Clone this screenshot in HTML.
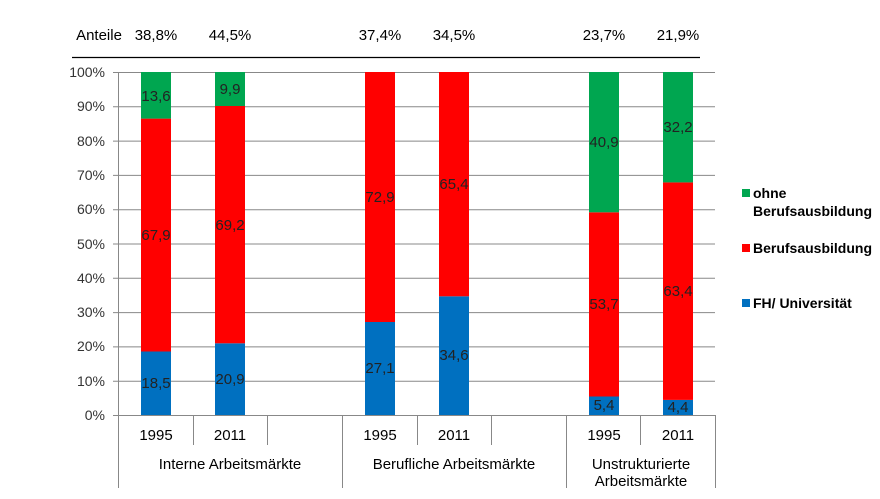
<!DOCTYPE html>
<html><head><meta charset="utf-8"><style>
body{margin:0;background:#fff;}
svg{display:block;font-family:"Liberation Sans",Arial,sans-serif;}
</style></head><body>
<svg width="880" height="499" viewBox="0 0 880 499" xmlns="http://www.w3.org/2000/svg">
<rect width="880" height="499" fill="#fff"/>
<line x1="72" y1="57.5" x2="700" y2="57.5" stroke="#000" stroke-width="1.3"/>
<g font-size="15" fill="#000" text-anchor="middle">
<text x="99" y="40">Anteile</text>
<text x="156" y="40">38,8%</text>
<text x="230" y="40">44,5%</text>
<text x="380" y="40">37,4%</text>
<text x="454" y="40">34,5%</text>
<text x="604" y="40">23,7%</text>
<text x="678" y="40">21,9%</text>
</g>
<g stroke="#888" stroke-width="1">
<line x1="113" y1="72.5" x2="715" y2="72.5"/>
<line x1="113" y1="106.8" x2="715" y2="106.8"/>
<line x1="113" y1="141.1" x2="715" y2="141.1"/>
<line x1="113" y1="175.4" x2="715" y2="175.4"/>
<line x1="113" y1="209.7" x2="715" y2="209.7"/>
<line x1="113" y1="244" x2="715" y2="244"/>
<line x1="113" y1="278.3" x2="715" y2="278.3"/>
<line x1="113" y1="312.6" x2="715" y2="312.6"/>
<line x1="113" y1="346.9" x2="715" y2="346.9"/>
<line x1="113" y1="381.2" x2="715" y2="381.2"/>
<line x1="113" y1="415.5" x2="715" y2="415.5"/>
<line x1="118.5" y1="72" x2="118.5" y2="488"/>
<line x1="193.5" y1="415" x2="193.5" y2="445"/>
<line x1="267.5" y1="415" x2="267.5" y2="445"/>
<line x1="342.5" y1="415" x2="342.5" y2="488"/>
<line x1="417.5" y1="415" x2="417.5" y2="445"/>
<line x1="491.5" y1="415" x2="491.5" y2="445"/>
<line x1="566.5" y1="415" x2="566.5" y2="488"/>
<line x1="640.5" y1="415" x2="640.5" y2="445"/>
<line x1="715.5" y1="415" x2="715.5" y2="488"/>
</g>
<g font-size="14" fill="#333" text-anchor="end">
<text x="105" y="77">100%</text><text x="105" y="111">90%</text><text x="105" y="146">80%</text>
<text x="105" y="180">70%</text><text x="105" y="214">60%</text><text x="105" y="249">50%</text>
<text x="105" y="283">40%</text><text x="105" y="317">30%</text><text x="105" y="351">20%</text>
<text x="105" y="386">10%</text><text x="105" y="420">0%</text>
</g>
<g>
<rect x="141" y="351.5" width="30" height="63.5" fill="#0070c0"/>
<rect x="141" y="118.6" width="30" height="232.9" fill="#ff0000"/>
<rect x="141" y="72" width="30" height="46.6" fill="#00a650"/>
<rect x="215" y="343.3" width="30" height="71.7" fill="#0070c0"/>
<rect x="215" y="106" width="30" height="237.3" fill="#ff0000"/>
<rect x="215" y="72" width="30" height="34" fill="#00a650"/>
<rect x="365" y="322" width="30" height="93" fill="#0070c0"/>
<rect x="365" y="72" width="30" height="250" fill="#ff0000"/>
<rect x="439" y="296.3" width="30" height="118.7" fill="#0070c0"/>
<rect x="439" y="72" width="30" height="224.3" fill="#ff0000"/>
<rect x="589" y="396.5" width="30" height="18.5" fill="#0070c0"/>
<rect x="589" y="212.3" width="30" height="184.2" fill="#ff0000"/>
<rect x="589" y="72" width="30" height="140.3" fill="#00a650"/>
<rect x="663" y="399.9" width="30" height="15.1" fill="#0070c0"/>
<rect x="663" y="182.4" width="30" height="217.5" fill="#ff0000"/>
<rect x="663" y="72" width="30" height="110.4" fill="#00a650"/>
</g>
<g font-size="15" fill="#222" text-anchor="middle">
<text x="156" y="388">18,5</text><text x="156" y="240">67,9</text><text x="156" y="101">13,6</text>
<text x="230" y="384">20,9</text><text x="230" y="230">69,2</text><text x="230" y="94">9,9</text>
<text x="380" y="373">27,1</text><text x="380" y="202">72,9</text>
<text x="454" y="360">34,6</text><text x="454" y="189">65,4</text>
<text x="604" y="410">5,4</text><text x="604" y="309">53,7</text><text x="604" y="147">40,9</text>
<text x="678" y="412">4,4</text><text x="678" y="296">63,4</text><text x="678" y="132">32,2</text>
</g>
<g font-size="15" fill="#000" text-anchor="middle">
<text x="156" y="440">1995</text><text x="230" y="440">2011</text>
<text x="380" y="440">1995</text><text x="454" y="440">2011</text>
<text x="604" y="440">1995</text><text x="678" y="440">2011</text>
<text x="230" y="469">Interne Arbeitsmärkte</text>
<text x="454" y="469">Berufliche Arbeitsmärkte</text>
<text x="641" y="469">Unstrukturierte</text>
<text x="641" y="486">Arbeitsmärkte</text>
</g>
<g font-size="14" font-weight="bold" fill="#000">
<rect x="742" y="189" width="8" height="8" fill="#00a650"/>
<text x="753" y="198">ohne</text>
<text x="753" y="216">Berufsausbildung</text>
<rect x="742" y="244" width="8" height="8" fill="#ff0000"/>
<text x="753" y="253">Berufsausbildung</text>
<rect x="742" y="299" width="8" height="8" fill="#0070c0"/>
<text x="753" y="308">FH/ Universität</text>
</g>
</svg>
</body></html>
